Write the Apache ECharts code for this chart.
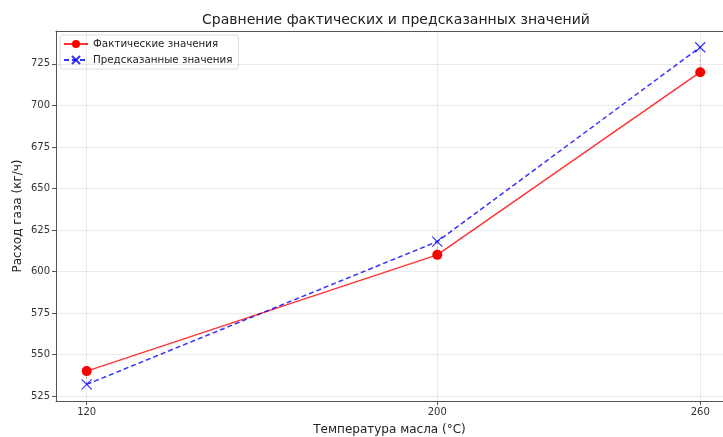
<!DOCTYPE html>
<html><head><meta charset="utf-8">
<script src="https://cdn.jsdelivr.net/npm/echarts@6/dist/echarts.min.js"></script>
<style>html,body{margin:0;padding:0;background:#fff}#c{width:723px;height:437px}</style>
</head><body><div id="c"></div>
<script>
const temps = [120, 200, 260];
const actual = [540, 610, 720];
const predicted = [532, 618, 735];
const xTicks = [120, 200, 260];
const yTicks = [525, 550, 575, 600, 625, 650, 675, 700, 725];

const font = 'DejaVu Sans';
const chart = echarts.init(document.getElementById('c'));
const residuals = temps.map((t, i) => ({
  type: 'line', silent: true, symbol: 'none', z: 1,
  data: [[t, actual[i]], [t, predicted[i]]],
  lineStyle: {color: 'rgba(128,128,128,0.5)', width: 1, type: [3, 2]}
}));
chart.setOption({
  animation: false,
  title: {text: 'Сравнение фактических и предсказанных значений', left: 391, textAlign: 'center', top: 8,
    textStyle: {fontFamily: font, fontSize: 14, fontWeight: 'normal', color: '#222'}},
  grid: {left: 56, right: 0, top: 31, bottom: 36, containLabel: false, outerBoundsMode: 'none'},
  legend: {
    orient: 'vertical', left: 60, top: 35, itemGap: 6, itemWidth: 24, itemHeight: 10,
    padding: [4, 6, 4, 3], borderColor: '#ddd', borderWidth: 1, borderRadius: 3, backgroundColor: 'rgba(255,255,255,0.8)',
    textStyle: {fontFamily: font, fontSize: 10.3, color: '#222'},
    data: ['Фактические значения', 'Предсказанные значения']
  },
  xAxis: [{
    type: 'value', min: 113, max: 265.2,
    name: 'Температура масла (°C)', nameLocation: 'middle', nameGap: 23, nameMoveOverlap: false,
    nameTextStyle: {fontFamily: font, fontSize: 12, color: '#222'},
    axisLine: {lineStyle: {color: '#555', width: 1}},
    axisTick: {customValues: xTicks, length: 4, lineStyle: {color: '#555'}},
    axisLabel: {customValues: xTicks, fontFamily: font, fontSize: 10, color: '#333', margin: 6},
    splitLine: {show: false}
  }, {
    type: 'value', position: 'top', min: 113, max: 265.2,
    axisLine: {show: true, lineStyle: {color: '#555', width: 1}},
    axisTick: {show: false}, axisLabel: {show: false}, splitLine: {show: false}
  }],
  yAxis: {
    type: 'value', min: 522, max: 744.8,
    name: 'Расход газа (кг/ч)', nameLocation: 'middle', nameGap: 32, nameMoveOverlap: false,
    nameTextStyle: {fontFamily: font, fontSize: 12, color: '#222'},
    axisLine: {show: true, lineStyle: {color: '#555', width: 1}},
    axisTick: {customValues: yTicks, length: 4, lineStyle: {color: '#555'}},
    axisLabel: {customValues: yTicks, fontFamily: font, fontSize: 10, color: '#333', margin: 6},
    splitLine: {show: false}
  },
  series: [
    {
      type: 'line', name: 'gridlines', silent: true, symbol: 'none', data: [], z: 0,
      markLine: {silent: true, symbol: 'none', label: {show: false},
        lineStyle: {color: 'rgba(0,0,0,0.08)', type: 'solid', width: 1},
        data: xTicks.map(v => ({xAxis: v})).concat(yTicks.map(v => ({yAxis: v})))}
    },
    ...residuals,
    {
      type: 'line', name: 'Фактические значения', z: 3,
      data: temps.map((t, i) => [t, actual[i]]),
      symbol: 'circle', symbolSize: 10,
      itemStyle: {color: '#ff0000'},
      lineStyle: {color: 'rgba(255,0,0,0.8)', width: 1.5}
    },
    {
      type: 'line', name: 'Предсказанные значения', z: 4,
      data: temps.map((t, i) => [t, predicted[i]]),
      symbol: 'path://M0,0 L10,10 M10,0 L0,10', symbolSize: 10,
      itemStyle: {color: 'rgba(0,0,255,0.8)', borderColor: 'rgba(0,0,255,0.8)', borderWidth: 1.2},
      lineStyle: {color: 'rgba(0,0,255,0.8)', width: 1.5, type: [5, 3]}
    }
  ]
});
</script></body></html>
